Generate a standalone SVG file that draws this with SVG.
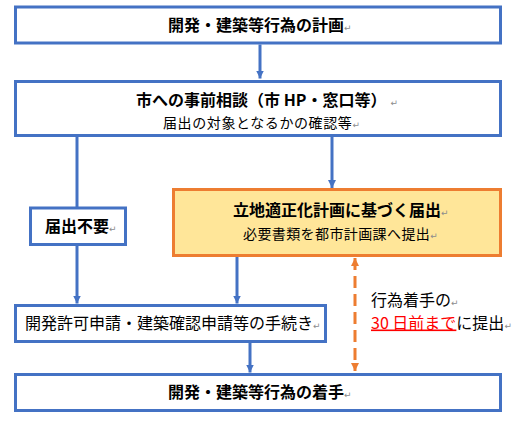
<svg xmlns="http://www.w3.org/2000/svg" width="516" height="425" viewBox="0 0 516 425">
<defs>
<style>
.box{fill:#FFFFFF;stroke:#4472C4;stroke-width:3}
.obox{fill:#FFE699;stroke:#ED7D31;stroke-width:3}
.t{font-family:"Noto Sans CJK JP","Noto Sans",sans-serif;fill:#000000}
.b{font-weight:bold;font-size:16px}
.r{font-size:16px}
.s{font-size:14px}
.ret{font-family:"DejaVu Sans",sans-serif;font-size:9px;fill:#8C8C8C;font-weight:normal;letter-spacing:0}
.c{stroke:#4472C4;stroke-width:3;fill:none}
.d{stroke:#ED7D31;stroke-width:3;fill:none;stroke-dasharray:12 6}
</style>
<marker id="ab" viewBox="0 0 8 8" refX="8" refY="4" markerWidth="8" markerHeight="8" markerUnits="userSpaceOnUse" orient="auto">
<path d="M0,0 L8,4 L0,8 Z" fill="#4472C4"/>
</marker>
<marker id="ao" viewBox="0 0 8 8" refX="8" refY="4" markerWidth="8" markerHeight="8" markerUnits="userSpaceOnUse" orient="auto-start-reverse">
<path d="M0,0 L8,4 L0,8 Z" fill="#ED7D31"/>
</marker>
</defs>
<rect width="516" height="425" fill="#FFFFFF"/>
<g id="connectors">
<line class="c" x1="260" y1="44.5" x2="260" y2="78.5" marker-end="url(#ab)"/>
<line class="c" x1="77" y1="137" x2="77" y2="207"/>
<line class="c" x1="77" y1="246" x2="77" y2="303.5" marker-end="url(#ab)"/>
<line class="c" x1="332" y1="137" x2="332" y2="188" marker-end="url(#ab)"/>
<line class="c" x1="237" y1="257" x2="237" y2="303.5" marker-end="url(#ab)"/>
<line class="c" x1="250" y1="343" x2="250" y2="372.5" marker-end="url(#ab)"/>
<line class="d" x1="355" y1="258" x2="355" y2="371" marker-start="url(#ao)" marker-end="url(#ao)"/>
</g>
<g id="n1">
<rect class="box" x="15.5" y="7" width="485" height="36"/>
<text class="t b" x="168" y="31">開発・建築等行為の計画<tspan class="ret">↵</tspan></text>
</g>
<g id="n2">
<rect class="box" x="15.5" y="81.5" width="485" height="54"/>
<text class="t b" x="136" y="105.5">市への事前相談（市 HP・窓口等）<tspan class="ret" dx="4">↵</tspan></text>
<text class="t s" x="163" y="128" letter-spacing="0.6">届出の対象となるかの確認等<tspan class="ret">↵</tspan></text>
</g>
<g id="n3">
<rect class="box" x="30.5" y="208" width="95" height="36.5"/>
<text class="t b" x="45" y="232">届出不要<tspan class="ret">↵</tspan></text>
</g>
<g id="n4">
<rect class="obox" x="173.5" y="189.5" width="327" height="66"/>
<text class="t b" x="233" y="215.5">立地適正化計画に基づく届出<tspan class="ret">↵</tspan></text>
<text class="t s" x="243" y="239" letter-spacing="0.4">必要書類を都市計画課へ提出<tspan class="ret">↵</tspan></text>
</g>
<g id="n5">
<rect class="box" x="15.5" y="305.5" width="310" height="36"/>
<text class="t r" x="25" y="328.5">開発許可申請・建築確認申請等の手続き<tspan class="ret">↵</tspan></text>
</g>
<g id="n6">
<rect class="box" x="15.5" y="374.5" width="485" height="36"/>
<text class="t b" x="168" y="397.5">開発・建築等行為の着手<tspan class="ret">↵</tspan></text>
</g>
<g id="note">
<text class="t r" x="371" y="306">行為着手の<tspan class="ret">↵</tspan></text>
<text class="t r" x="371" y="328.5"><tspan fill="#FF0000" text-decoration="underline">30 日前まで</tspan>に提出<tspan class="ret">↵</tspan></text>
</g>
</svg>
